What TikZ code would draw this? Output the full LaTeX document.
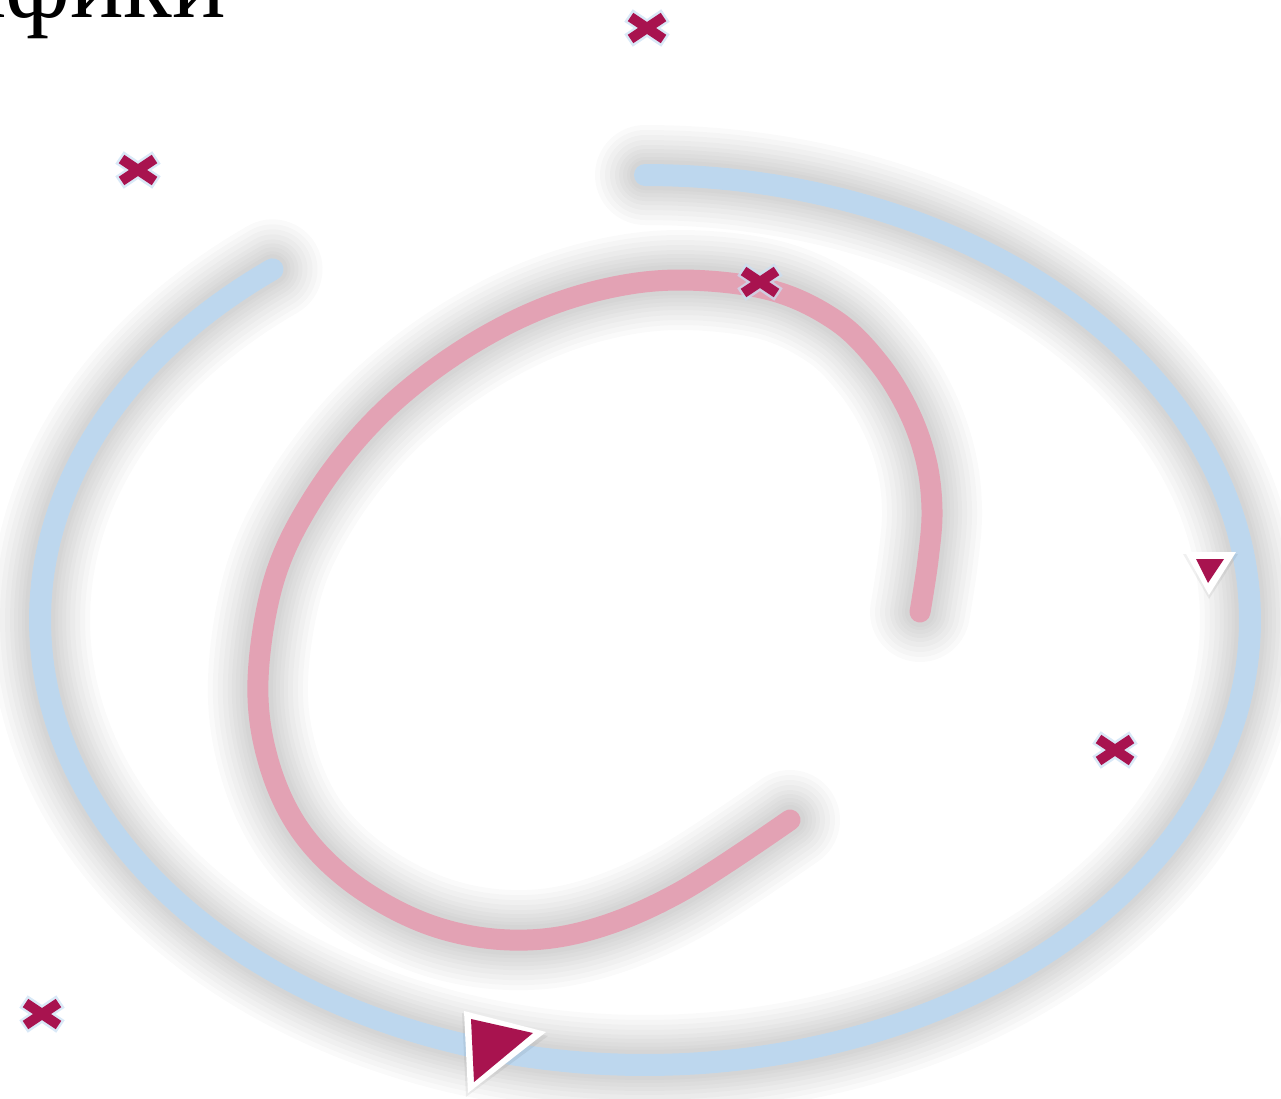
\documentclass[tikz,border=0pt]{standalone}
\usepackage{fontspec}
\newfontfamily\cyrserif{Liberation Serif}
\definecolor{bluepath}{HTML}{BDD7EE}
\definecolor{pinkpath}{HTML}{E3A2B4}
\definecolor{mk}{HTML}{A8134F}
\definecolor{glowblue}{HTML}{C9DFF4}
\newcommand\bluecurve{plot[variable=\t,domain=128:450,samples=240] ({645+605*cos(\t)},{620-445*sin(\t)})}
\newcommand\pinkcurve{plot[smooth,tension=0.6] coordinates {(920,612) (928,560) (932,510) (926,460) (908,410) (878,362) (835,320) (770,290) (680,280) (600,290) (520,318) (440,365) (370,425) (312,500) (274,580) (258,680) (268,760) (300,830) (355,885) (430,925) (510,940) (590,930) (680,892) (790,820)}}
\tikzset{
  xmark/.pic={
    \draw[glowblue, opacity=0.7, line width=15, line cap=butt] (-18.5,-12.5)--(18.5,12.5) (-18.5,12.5)--(18.5,-12.5);
    \draw[mk, line width=10, line cap=butt] (-16.5,-11)--(16.5,11) (-16.5,11)--(16.5,-11);
  },
  shadowline/.style={black, opacity=0.018, line cap=round},
  bluestroke/.style={bluepath, line width=22, line cap=round},
  pinkstroke/.style={pinkpath, line width=21, line cap=round},
  tribg/.style={fill=white},
  trifg/.style={fill=mk}
}
\begin{document}
\begin{tikzpicture}[x=1pt,y=-1pt]
\useasboundingbox (0,0) rectangle (1281,1099);
\node[anchor=base east, font=\cyrserif\fontsize{100}{110}\selectfont, inner sep=0] (title) at (226,18) {Графики};
% shadows
\foreach \w in {100,90,80,70,60,52,44,36,30} {
  \draw[shadowline, line width=\w] \bluecurve;
  \draw[shadowline, line width=\w] \pinkcurve;
}
% main strokes
\draw[bluestroke] \bluecurve;
\draw[pinkstroke] \pinkcurve;
% cross markers
\pic (m1) at (647,28) {xmark};
\pic (m2) at (138,170) {xmark};
\pic (m3) at (760,282) {xmark};
\pic (m4) at (1115,750) {xmark};
\pic (m5) at (42,1014) {xmark};
% triangles
\fill[black, opacity=0.06] (462,1013) -- (548,1036) -- (466,1097) -- cycle;
\fill[tribg] (464,1011) -- (546,1032) -- (468,1093) -- cycle;
\fill[trifg] (471,1019) -- (533,1033) -- (474,1082) -- cycle;
\fill[black, opacity=0.06] (1183,554) -- (1238,554) -- (1209,599) -- cycle;
\fill[tribg] (1185,552) -- (1236,552) -- (1209,595) -- cycle;
\fill[trifg] (1196,559) -- (1224,559) -- (1208,583) -- cycle;
\end{tikzpicture}
\end{document}
